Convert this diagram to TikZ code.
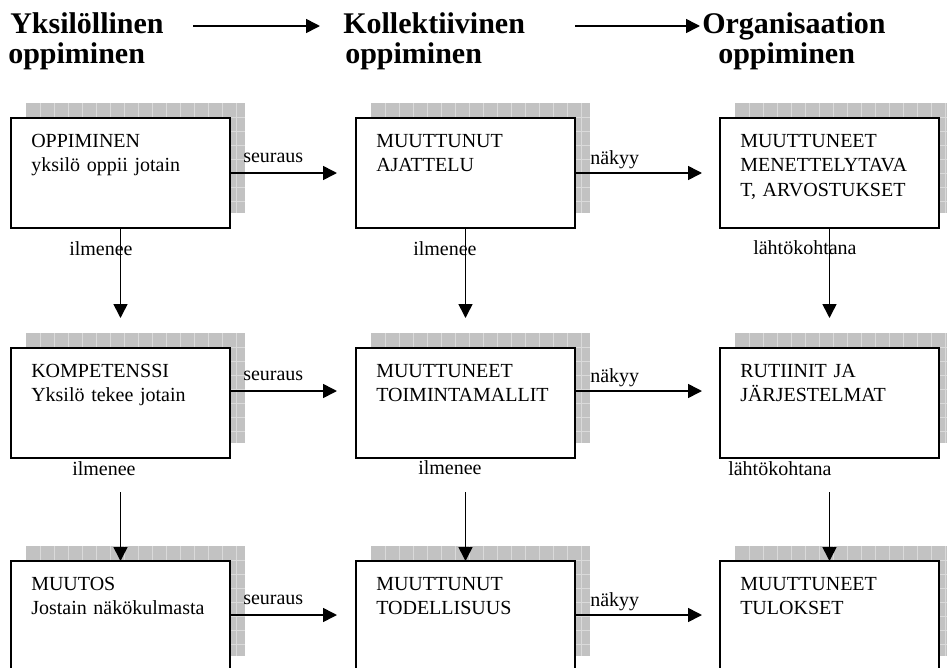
\documentclass[tikz,border=0pt]{standalone}
\usepackage{fontspec}
\setmainfont{Liberation Serif}
\usetikzlibrary{arrows.meta}
\definecolor{shadefill}{HTML}{C2C2C2}
\definecolor{shadegrid}{HTML}{DADADA}

% grid-patterned shadow behind a box whose top-left corner is (#1,#2)
\newcommand\gridshade[2]{%
  \begin{scope}
    \clip (#1+15,#2-15) rectangle ++(219,110);
    \fill[shadefill] (#1+15,#2-15) rectangle ++(219,110);
    \foreach \i in {14,28,...,210} \draw[gridline] (#1+15+\i,#2-15) -- ++(0,110);
    \foreach \j in {14,28,...,98} \draw[gridline] (#1+15,#2-15+\j) -- ++(219,0);
  \end{scope}}

\begin{document}
\begin{tikzpicture}[x=0.75pt,y=-0.75pt,
  gridline/.style={draw=shadegrid, line width=0.6pt},
  boxframe/.style={draw=black, line width=1.5pt, fill=white, rectangle, inner sep=0pt,
    outer sep=0pt, minimum width=164.25pt, minimum height=82.5pt, anchor=north west},
  boxtext/.style={anchor=base west, inner sep=0pt, align=left, text width=150pt,
    font=\fontsize{15}{18.4}\selectfont},
  lbl/.style={anchor=base west, inner sep=0pt, font=\fontsize{15}{18}\selectfont},
  head/.style={anchor=base west, inner sep=0pt, font=\fontsize{22.5}{27}\selectfont\bfseries},
  arr/.style={line width=1.2pt, -{Triangle[length=10.5pt,width=10.5pt]}}]

\path[use as bounding box] (0,0) rectangle (947,668);
\clip (0,0) rectangle (947,668);

% column headings
\node[head] (h1a) at (10,33) {Yksilöllinen};
\node[head] (h1b) at (8,63) {oppiminen};
\node[head] (h2a) at (343,33) {Kollektiivinen};
\node[head] (h2b) at (345,63) {oppiminen};
\node[head] (h3a) at (702,33) {Organisaation};
\node[head] (h3b) at (718,63) {oppiminen};
\coordinate (ha1) at (193,26);
\coordinate (ha2) at (320,26);
\coordinate (ha3) at (575,26);
\coordinate (ha4) at (700,26);

% shadows
\gridshade{11}{118}
\gridshade{356}{118}
\gridshade{720}{118}
\gridshade{11}{348}
\gridshade{356}{348}
\gridshade{720}{348}
\gridshade{11}{561}
\gridshade{356}{561}
\gridshade{720}{561}

% boxes
\node[boxframe] (b11) at (11,118) {};
\node[boxframe] (b12) at (356,118) {};
\node[boxframe] (b13) at (720,118) {};
\node[boxframe] (b21) at (11,348) {};
\node[boxframe] (b22) at (356,348) {};
\node[boxframe] (b23) at (720,348) {};
\node[boxframe] (b31) at (11,561) {};
\node[boxframe] (b32) at (356,561) {};
\node[boxframe] (b33) at (720,561) {};

% box texts
\node[boxtext] (t11) at (31,147) {OPPIMINEN\\yksilö oppii jotain};
\node[boxtext] (t12) at (376,147) {MUUTTUNUT\\AJATTELU};
\node[boxtext] (t13) at (740,147) {MUUTTUNEET\\MENETTELYTAVA\\T, ARVOSTUKSET};
\node[boxtext] (t21) at (31,377) {KOMPETENSSI\\Yksilö tekee jotain};
\node[boxtext] (t22) at (376,377) {MUUTTUNEET\\TOIMINTAMALLIT};
\node[boxtext] (t23) at (740,377) {RUTIINIT JA\\JÄRJESTELMAT};
\node[boxtext] (t31) at (31,590) {MUUTOS\\Jostain näkökulmasta};
\node[boxtext] (t32) at (376,590) {MUUTTUNUT\\TODELLISUUS};
\node[boxtext] (t33) at (740,590) {MUUTTUNEET\\TULOKSET};

% connector labels
\node[lbl] (s1) at (243,162) {seuraus};
\node[lbl] (s2) at (243,380) {seuraus};
\node[lbl] (s3) at (243,604) {seuraus};
\node[lbl] (n1) at (590,164) {näkyy};
\node[lbl] (n2) at (590,382) {näkyy};
\node[lbl] (n3) at (590,606) {näkyy};
\node[lbl] (i11) at (69,255) {ilmenee};
\node[lbl] (i12) at (413,255) {ilmenee};
\node[lbl] (l13) at (753,254) {lähtökohtana};
\node[lbl] (i21) at (72,475) {ilmenee};
\node[lbl] (i22) at (418,474) {ilmenee};
\node[lbl] (l23) at (728,475) {lähtökohtana};

% connector end points
\coordinate (e11) at (337,173);
\coordinate (e12) at (702,173);
\coordinate (e21) at (337,391);
\coordinate (e22) at (702,391);
\coordinate (e31) at (337,615);
\coordinate (e32) at (702,615);
\coordinate (d11) at (120.5,318);
\coordinate (d12) at (465.5,318);
\coordinate (d13) at (829.5,318);
\coordinate (u21) at (120.5,492);
\coordinate (u22) at (465.5,492);
\coordinate (u23) at (829.5,492);

% arrows
\draw[arr] (ha1) -- (ha2);
\draw[arr] (ha3) -- (ha4);
\draw[arr] (b11.east |- e11) -- (e11);
\draw[arr] (b12.east |- e12) -- (e12);
\draw[arr] (b21.east |- e21) -- (e21);
\draw[arr] (b22.east |- e22) -- (e22);
\draw[arr] (b31.east |- e31) -- (e31);
\draw[arr] (b32.east |- e32) -- (e32);
\draw[arr] (b11.south) -- (d11);
\draw[arr] (b12.south) -- (d12);
\draw[arr] (b13.south) -- (d13);
\draw[arr] (u21) -- (b31.north);
\draw[arr] (u22) -- (b32.north);
\draw[arr] (u23) -- (b33.north);
\end{tikzpicture}
\end{document}
